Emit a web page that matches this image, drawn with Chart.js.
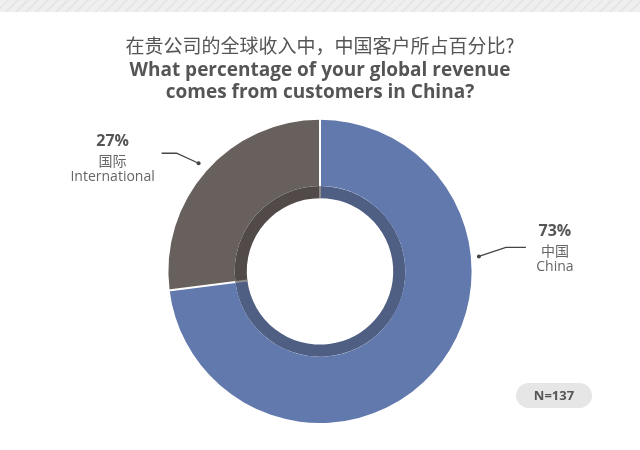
<!DOCTYPE html>
<html>
<head>
<meta charset="utf-8">
<script src="https://cdn.jsdelivr.net/npm/chart.js@4.4.1/dist/chart.umd.min.js"></script>
<style>
  html, body { margin: 0; padding: 0; background: #fff; }
  #wrap { position: relative; width: 640px; height: 450px; overflow: hidden; }
  #stripe {
    position: absolute; left: 0; top: 0; width: 640px; height: 12px;
    background: repeating-linear-gradient(135deg, #efefef 0 5px, #e6e6e6 5px 7px);
  }
  #grafico { position: absolute; left: 0; top: 0; }
  #amostra {
    position: absolute; left: 516px; top: 383px; width: 76px; height: 25px;
    border-radius: 13px; background: #e6e6e6; color: #555;
    font: bold 13px "Open Sans", sans-serif; line-height: 25px; text-align: center;
  }
</style>
</head>
<body>
<div id="wrap">
  <div id="stripe"></div>
  <canvas id="grafico" width="640" height="450"></canvas>
  <div id="amostra"></div>
</div>
<script>
// dados do gráfico
const categoriasZh = ['中国', '国际'];
const categoriasEn = ['China', 'International'];
const valores = [73, 27];
const amostraN = 137;

const tituloZh = '在贵公司的全球收入中，中国客户所占百分比?';
const tituloEn = ['What percentage of your global revenue', 'comes from customers in China?'];

const coresFatia = ['#6279ad', '#67605d'];
const coresSombra = ['#4f5e83', '#514a48'];

document.getElementById('amostra').textContent = 'N=' + amostraN;

/* ===== rótulos com linha de chamada ===== */
// posição do ponto (ângulo em graus, distância além do raio) e desvios relativos ao ponto
const estiloRotulos = [
    { ang: -5.4, dist: 8, cotovelo: [27, -9], fim: [47, -9], texto: [76, -25] },
    { ang: -138.3, dist: 11, cotovelo: [-22, -10], fim: [-37, -10], texto: [-86, -22] }
];

const pluginRotulos = {
    id: 'rotulos',
    afterDatasetsDraw(chart) {
        const ctx = chart.ctx;
        const externo = chart.getDatasetMeta(0).data;
        const interno = chart.getDatasetMeta(1).data;

        // linhas separadoras entre as fatias
        ctx.save();
        externo.forEach((arc, i) => {
            const a = arc.startAngle;
            ctx.strokeStyle = '#ffffff';
            ctx.lineWidth = 2;
            ctx.beginPath();
            ctx.moveTo(arc.x + Math.cos(a) * arc.innerRadius, arc.y + Math.sin(a) * arc.innerRadius);
            ctx.lineTo(arc.x + Math.cos(a) * (arc.outerRadius + 1), arc.y + Math.sin(a) * (arc.outerRadius + 1));
            ctx.stroke();
            const b = interno[i];
            ctx.strokeStyle = '#8d8d8d';
            ctx.beginPath();
            ctx.moveTo(b.x + Math.cos(a) * b.innerRadius, b.y + Math.sin(a) * b.innerRadius);
            ctx.lineTo(b.x + Math.cos(a) * b.outerRadius, b.y + Math.sin(a) * b.outerRadius);
            ctx.stroke();
        });

        const total = valores.reduce((s, v) => s + v, 0);
        externo.forEach((arc, i) => {
            const e = estiloRotulos[i];
            const ang = e.ang * Math.PI / 180;
            const px = arc.x + Math.cos(ang) * (arc.outerRadius + e.dist);
            const py = arc.y + Math.sin(ang) * (arc.outerRadius + e.dist);

            ctx.strokeStyle = '#444';
            ctx.lineWidth = 1.3;
            ctx.beginPath();
            ctx.moveTo(px, py);
            ctx.lineTo(px + e.cotovelo[0], py + e.cotovelo[1]);
            ctx.lineTo(px + e.fim[0], py + e.fim[1]);
            ctx.stroke();
            ctx.fillStyle = '#444';
            ctx.beginPath();
            ctx.arc(px, py, 2, 0, Math.PI * 2);
            ctx.fill();

            const tx = px + e.texto[0];
            const ty = py + e.texto[1];
            ctx.textAlign = 'center';
            ctx.textBaseline = 'middle';
            ctx.fillStyle = '#555';
            ctx.font = 'bold 16px "Open Sans", sans-serif';
            ctx.fillText(Math.round(valores[i] / total * 100) + '%', tx, ty);
            ctx.fillStyle = '#666';
            ctx.font = '14px "Noto Sans CJK SC", sans-serif';
            ctx.fillText(categoriasZh[i], tx, ty + 19);
            ctx.font = '14px "Open Sans", sans-serif';
            ctx.fillText(categoriasEn[i], tx, ty + 36);
        });
        ctx.restore();
    }
};

new Chart(document.getElementById('grafico'), {
    type: 'doughnut',
    data: {
        labels: categoriasEn,
        datasets: [
            {
                data: valores,
                backgroundColor: coresFatia,
                borderWidth: 0,
                weight: 66
            },
            {
                data: valores,
                backgroundColor: coresSombra,
                borderWidth: 0,
                weight: 12
            }
        ]
    },
    options: {
        responsive: false,
        animation: false,
        cutout: '48.3%',
        layout: { padding: { top: 0, bottom: 27, left: 0, right: 0 } },
        plugins: {
            legend: { display: false },
            tooltip: { enabled: false },
            title: {
                display: true,
                text: tituloZh,
                color: '#555',
                font: { family: '"Noto Sans CJK SC", sans-serif', size: 19, weight: 'normal', lineHeight: 1.2 },
                padding: { top: 34.5, bottom: 0 }
            },
            subtitle: {
                display: true,
                text: tituloEn,
                color: '#555',
                font: { family: '"Open Sans", sans-serif', size: 19, weight: 'bold', lineHeight: '22px' },
                padding: { top: 2.5, bottom: 16 }
            }
        }
    },
    plugins: [pluginRotulos]
});
</script>
</body>
</html>
